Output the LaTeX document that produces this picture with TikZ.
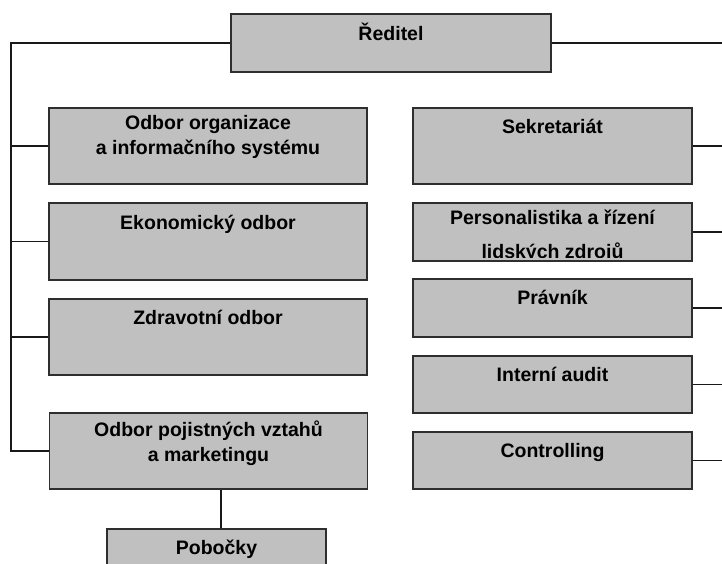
\documentclass[tikz,border=0pt]{standalone}
\usepackage{fontspec}
\setmainfont{Liberation Sans}
\usepackage{xcolor}
\usepackage{tikz}
\usetikzlibrary{positioning, calc}

\definecolor{boxgray}{HTML}{C0C0C0}
\definecolor{boxline}{HTML}{2E2E2E}

\begin{document}
\begin{tikzpicture}[
        x=1pt, y=-1pt,
        box/.style={rectangle, draw=boxline, line width=1.4pt, fill=boxgray, inner sep=0pt},
        wide/.style={box, minimum width=318},
        narrow/.style={box, minimum width=279},
        txt/.style={anchor=north, inner sep=0pt, align=center, font=\bfseries\fontsize{19.5}{25}\selectfont, execute at begin node=\strut},
        link/.style={line width=1.4pt, black!90}
    ]
        \useasboundingbox (0,0) rectangle (722,563);
        \clip (0,0) rectangle (722,563);

        % Trunk lines
        \coordinate (ltrunk) at (11,0);
        \coordinate (rtrunk) at (722,0);

        % Boxes
        \node[box, minimum width=320, minimum height=58] (reditel) at (391,43) {};
        \node[wide, minimum height=76] (org) at (208,146) {};
        \node[wide, minimum height=77] (ekon) at (208,241.5) {};
        \node[wide, minimum height=76] (zdrav) at (208,337) {};
        \node[wide, minimum height=76] (pojist) at (208.5,451) {};
        \node[box, minimum width=219, minimum height=52] (pob) at (216.5,555) {};

        \node[narrow, minimum height=76] (sekr) at (552.5,146) {};
        \node[narrow, minimum height=58] (pers) at (552.5,232) {};
        \node[narrow, minimum height=58] (pravnik) at (552.5,308) {};
        \node[narrow, minimum height=57] (audit) at (552.5,384.5) {};
        \node[narrow, minimum height=57] (control) at (552.5,460.5) {};

        % Texts
        \node[txt] (reditel-t) at ([yshift=-9.5pt]reditel.north) {Ředitel};
        \node[txt] (org-t) at ([yshift=-8pt]org.north) {Odbor organizace\\a informačního systému};
        \node[txt] (ekon-t) at ([yshift=-9pt]ekon.north) {Ekonomický odbor};
        \node[txt] (zdrav-t) at ([yshift=-8.5pt]zdrav.north) {Zdravotní odbor};
        \node[txt] (pojist-t) at ([yshift=-8pt]pojist.north) {Odbor pojistných vztahů\\a marketingu};
        \node[txt] (pob-t) at ([yshift=-8pt]pob.north) {Pobočky};
        \node[txt] (sekr-t) at ([yshift=-8pt]sekr.north) {Sekretariát};
        \begin{scope}
            \clip (pers.north west) rectangle ([yshift=4pt]pers.south east);
            \node[txt] (pers-t) at ([yshift=-7pt]pers.north) {Personalistika a řízení\\[9pt]lidských zdrojů};
        \end{scope}
        \node[txt] (pravnik-t) at ([yshift=-8pt]pravnik.north) {Právník};
        \node[txt] (audit-t) at ([yshift=-8pt]audit.north) {Interní audit};
        \node[txt] (control-t) at ([yshift=-8pt]control.north) {Controlling};

        % Left branches
        \draw[link] (reditel.west) -- (reditel.west -| ltrunk) -- (pojist.west -| ltrunk) -- (pojist.west);
        \foreach \n in {org, ekon, zdrav}
            \draw[link] (\n.west) -- (\n.west -| ltrunk);

        % Right branches
        \draw[link] (reditel.east) -- (reditel.east -| rtrunk);
        \foreach \n in {sekr, pers, pravnik, audit, control}
            \draw[link] (\n.east) -- (\n.east -| rtrunk);

        % Branch offices
        \draw[link] ([xshift=4.5pt]pob.north) -- ([xshift=4.5pt]pob.north |- pojist.south);
    \end{tikzpicture}
\end{document}
